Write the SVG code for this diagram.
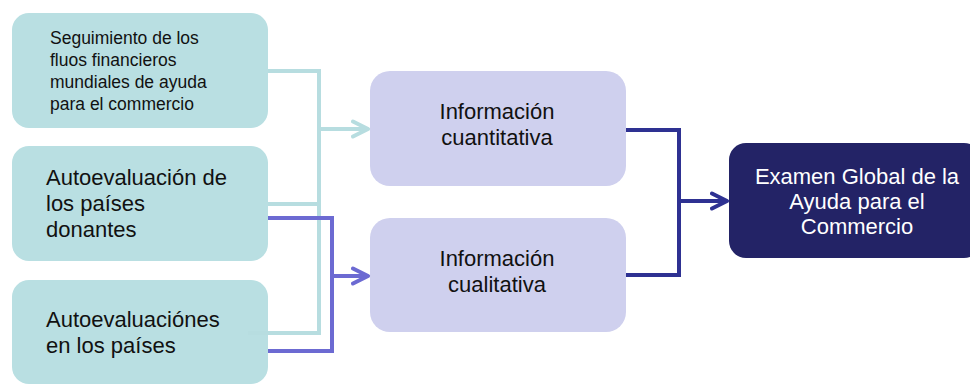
<svg xmlns="http://www.w3.org/2000/svg" width="970" height="385" viewBox="0 0 970 385">
<style>
.src{fill:#b9dfe2}
.info{fill:#cfd0ee}
.exam{fill:#232366}
.t{font-family:"Liberation Sans",Arial,sans-serif;fill:#111}
.sm{font-size:17.5px}
.lg{font-size:22px}
.w{fill:#ffffff}
.c{fill:none;stroke-width:4;stroke-linejoin:miter}
.teal{stroke:#b7dde0}
.purp{stroke:#6c6ad2}
.dark{stroke:#2e3192}
</style>
<defs>
<marker id="aT" markerUnits="userSpaceOnUse" viewBox="0 0 20 20" markerWidth="20" markerHeight="20" refX="17" refY="10" orient="auto">
<path d="M2,2.5 L17,10 L2,17.5" fill="none" stroke="#b7dde0" stroke-width="4" stroke-linecap="round" stroke-linejoin="round"/>
</marker>
<marker id="aP" markerUnits="userSpaceOnUse" viewBox="0 0 20 20" markerWidth="20" markerHeight="20" refX="17" refY="10" orient="auto">
<path d="M2,2.5 L17,10 L2,17.5" fill="none" stroke="#6c6ad2" stroke-width="4" stroke-linecap="round" stroke-linejoin="round"/>
</marker>
<marker id="aD" markerUnits="userSpaceOnUse" viewBox="0 0 20 20" markerWidth="20" markerHeight="20" refX="17" refY="10" orient="auto">
<path d="M2,2.5 L17,10 L2,17.5" fill="none" stroke="#2e3192" stroke-width="4" stroke-linecap="round" stroke-linejoin="round"/>
</marker>
</defs>

<g id="seguimiento">
<rect class="src" x="12" y="13" width="256" height="115" rx="17"/>
<text class="t sm" x="50" y="44">Seguimiento de los</text>
<text class="t sm" x="50" y="66">fluos financieros</text>
<text class="t sm" x="50" y="88">mundiales de ayuda</text>
<text class="t sm" x="50" y="110">para el commercio</text>
</g>
<g id="donantes">
<rect class="src" x="12" y="146" width="256" height="115" rx="17"/>
<text class="t lg" x="46" y="185">Autoevaluación de</text>
<text class="t lg" x="46" y="211">los países</text>
<text class="t lg" x="46" y="237">donantes</text>
</g>
<g id="paises">
<rect class="src" x="12" y="280" width="256" height="104" rx="17"/>
<text class="t lg" x="46" y="327">Autoevaluaciónes</text>
<text class="t lg" x="46" y="353">en los países</text>
</g>
<g id="cuantitativa">
<rect class="info" x="370" y="71" width="256" height="115" rx="20"/>
<text class="t lg" x="497" y="119" text-anchor="middle">Información</text>
<text class="t lg" x="497" y="145" text-anchor="middle">cuantitativa</text>
</g>
<g id="cualitativa">
<rect class="info" x="370" y="218" width="256" height="114" rx="20"/>
<text class="t lg" x="497" y="266" text-anchor="middle">Información</text>
<text class="t lg" x="497" y="292" text-anchor="middle">cualitativa</text>
</g>
<g id="examen">
<rect class="exam" x="729" y="143" width="252" height="115" rx="17"/>
<text class="t lg w" x="857" y="184" text-anchor="middle">Examen Global de la</text>
<text class="t lg w" x="857" y="209" text-anchor="middle">Ayuda para el</text>
<text class="t lg w" x="857" y="234" text-anchor="middle">Commercio</text>
</g>

<g id="connectors">
<path class="c teal" d="M268,71 H319 V333 H248"/>
<path class="c teal" d="M268,204 H319"/>
<path class="c teal" d="M319,129 H368" marker-end="url(#aT)"/>
<path class="c purp" d="M268,218 H332 V351 H268"/>
<path class="c purp" d="M332,276 H368" marker-end="url(#aP)"/>
<path class="c dark" d="M626,130 H679 V275 H626"/>
<path class="c dark" d="M679,201 H727" marker-end="url(#aD)"/>
</g>
</svg>
